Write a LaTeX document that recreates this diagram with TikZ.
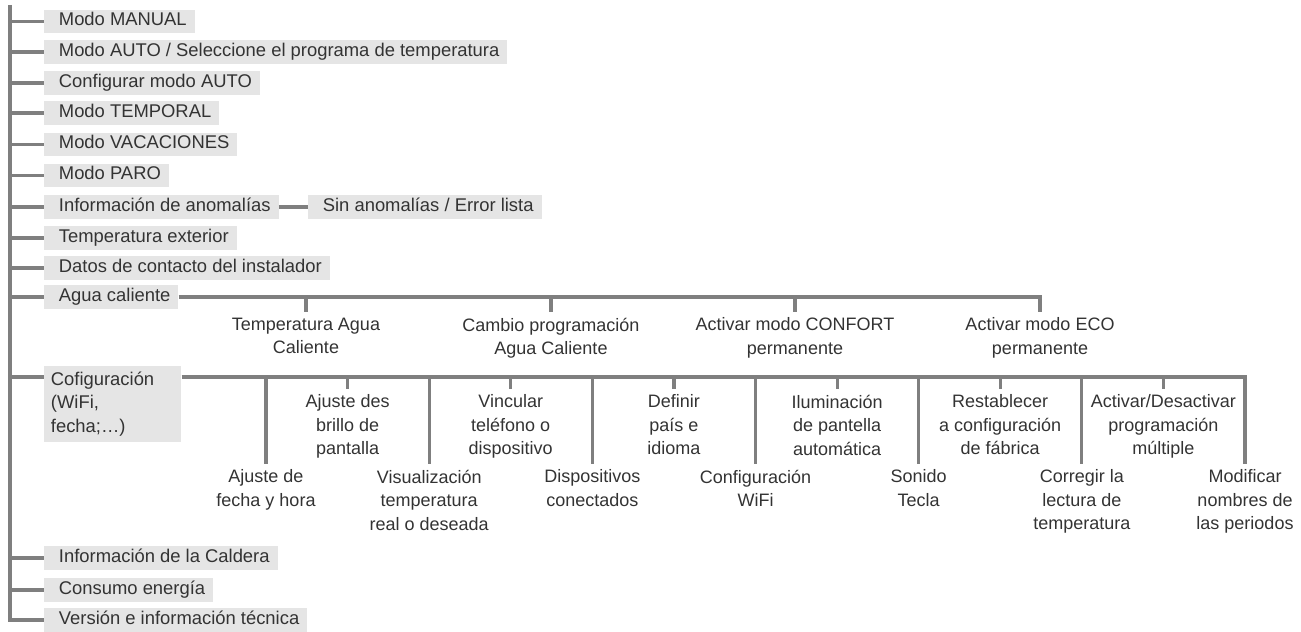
\documentclass[tikz,border=0pt]{standalone}
\usepackage{fontspec}
\setmainfont{Liberation Sans}
\usepackage{tikz}
\usetikzlibrary{positioning}
\definecolor{Wire}{HTML}{7F7F7F}
\definecolor{Shade}{HTML}{E5E5E5}
\definecolor{Ink}{HTML}{333333}
\newcommand{\menufont}{\fontsize{13.8}{17.6}\selectfont}
\newcommand{\subfont}{\fontsize{13.5}{17.6}\selectfont}
\tikzset{
  wire/.style={draw=Wire,line width=2.9pt},
  stub/.style={draw=Wire,line width=2.4pt},
  menubox/.style={anchor=west,fill=Shade,text=Ink,font=\menufont,inner xsep=6pt,inner ysep=2.2pt,
    text height=9.6pt,text depth=3.3pt,execute at begin node={\hspace*{5pt}}},
  cfgbox/.style={anchor=north west,fill=Shade,text=Ink,font=\menufont,align=left,text width=92.75pt,
    inner xsep=5pt,inner ysep=1pt,minimum height=57pt,execute at begin node=\strut},
  sublabel/.style={align=center,text=Ink,font=\subfont,inner sep=0pt,execute at begin node=\strut},
}

\begin{document}
\begin{tikzpicture}[x=0.75pt,y=-0.75pt]
    \useasboundingbox (0,0) rectangle (1301,631);
    \coordinate (top) at (10,5);

    % main menu
    \node[menubox] (manual) at (44,21.5) {Modo MANUAL};
    \node[menubox] (auto) at (44,52) {Modo AUTO / Seleccione el programa de temperatura};
    \node[menubox] (autocfg) at (44,83) {Configurar modo AUTO};
    \node[menubox] (temporal) at (44,113) {Modo TEMPORAL};
    \node[menubox] (vacation) at (44,144.5) {Modo VACACIONES};
    \node[menubox] (paro) at (44,175.5) {Modo PARO};
    \node[menubox] (info) at (44,207) {Información de anomalías};
    \node[menubox,right=21.75pt of info] (noerr) {Sin anomalías / Error lista};
    \node[menubox] (outdoor) at (44,238) {Temperatura exterior};
    \node[menubox] (installer) at (44,268) {Datos de contacto del instalador};
    \node[menubox] (agua) at (44,297) {Agua caliente};
    \node[cfgbox] (cfg) at (44,366) {Cofiguración\\(WiFi,\\fecha;…)\strut};
    \node[menubox] (boiler) at (44,558) {Información de la Caldera};
    \node[menubox] (energy) at (44,590) {Consumo energía};
    \node[menubox] (version) at (44,620) {Versión e información técnica};
    \coordinate (cfgrow) at (10,377);

    \draw[wire] (top) -- (top |- version.west) -- (version.west);
    \draw[wire] (top |- manual.west) -- (manual.west);
    \draw[wire] (top |- auto.west) -- (auto.west);
    \draw[wire] (top |- autocfg.west) -- (autocfg.west);
    \draw[wire] (top |- temporal.west) -- (temporal.west);
    \draw[wire] (top |- vacation.west) -- (vacation.west);
    \draw[wire] (top |- paro.west) -- (paro.west);
    \draw[wire] (top |- info.west) -- (info.west);
    \draw[wire] (info) -- (noerr);
    \draw[wire] (top |- outdoor.west) -- (outdoor.west);
    \draw[wire] (top |- installer.west) -- (installer.west);
    \draw[wire] (top |- agua.west) -- (agua.west);
    \draw[wire] (cfgrow) -- (cfg.west |- cfgrow);
    \draw[wire] (top |- boiler.west) -- (boiler.west);
    \draw[wire] (top |- energy.west) -- (energy.west);

    % agua caliente
    \coordinate (a1) at (306,312);
    \coordinate (a2) at (551,312);
    \coordinate (a3) at (795,312);
    \coordinate (a4) at (1040,312);
    \node[sublabel,below=4.2pt of a1] (aguatemp) {Temperatura Agua\\Caliente};
    \node[sublabel,below=4.2pt of a2] (aguaprog) {Cambio programación\\Agua Caliente};
    \node[sublabel,below=4.2pt of a3] (confort) {Activar modo CONFORT\\permanente};
    \node[sublabel,below=4.2pt of a4] (eco) {Activar modo ECO\\permanente};
    \draw[wire] (agua.east) -- (a4 |- agua.east) -- (a4);
    \draw[stub] (a1 |- agua.east) -- (a1);
    \draw[stub] (a2 |- agua.east) -- (a2);
    \draw[stub] (a3 |- agua.east) -- (a3);

    % configuracion
    \coordinate (c0) at (266,464);
    \coordinate (c1) at (347.6,389);
    \coordinate (c2) at (429.2,464);
    \coordinate (c3) at (510.7,389);
    \coordinate (c4) at (592.3,464);
    \coordinate (c5) at (673.9,389);
    \coordinate (c6) at (755.5,464);
    \coordinate (c7) at (837.1,389);
    \coordinate (c8) at (918.6,464);
    \coordinate (c9) at (1000.2,389);
    \coordinate (c10) at (1081.8,464);
    \coordinate (c11) at (1163.4,389);
    \coordinate (c12) at (1245,464);
    \node[sublabel,below=4.2pt of c0] (datetime) {Ajuste de\\fecha y hora};
    \node[sublabel,below=4.2pt of c1] (bright) {Ajuste des\\brillo de\\pantalla};
    \node[sublabel,below=4.2pt of c2] (display) {Visualización\\temperatura\\real o deseada};
    \node[sublabel,below=4.2pt of c3] (pair) {Vincular\\teléfono o\\dispositivo};
    \node[sublabel,below=4.2pt of c4] (devices) {Dispositivos\\conectados};
    \node[sublabel,below=4.2pt of c5] (locale) {Definir\\país e\\idioma};
    \node[sublabel,below=4.2pt of c6] (wifi) {Configuración\\WiFi};
    \node[sublabel,below=4.2pt of c7] (backlight) {Iluminación\\de pantella\\automática};
    \node[sublabel,below=4.2pt of c8] (keysound) {Sonido\\Tecla};
    \node[sublabel,below=4.2pt of c9] (reset) {Restablecer\\a configuración\\de fábrica};
    \node[sublabel,below=4.2pt of c10] (offset) {Corregir la\\lectura de\\temperatura};
    \node[sublabel,below=4.2pt of c11] (multi) {Activar/Desactivar\\programación\\múltiple};
    \node[sublabel,below=4.2pt of c12] (rename) {Modificar\\nombres de\\las periodos};
    \draw[wire] (cfg.east |- cfgrow) -- (c12 |- cfgrow) -- (c12);
    \draw[stub] (c0 |- cfgrow) -- (c0);
    \draw[stub] (c1 |- cfgrow) -- (c1);
    \draw[stub] (c2 |- cfgrow) -- (c2);
    \draw[stub] (c3 |- cfgrow) -- (c3);
    \draw[stub] (c4 |- cfgrow) -- (c4);
    \draw[stub] (c5 |- cfgrow) -- (c5);
    \draw[stub] (c6 |- cfgrow) -- (c6);
    \draw[stub] (c7 |- cfgrow) -- (c7);
    \draw[stub] (c8 |- cfgrow) -- (c8);
    \draw[stub] (c9 |- cfgrow) -- (c9);
    \draw[stub] (c10 |- cfgrow) -- (c10);
    \draw[stub] (c11 |- cfgrow) -- (c11);
\end{tikzpicture}
\end{document}
